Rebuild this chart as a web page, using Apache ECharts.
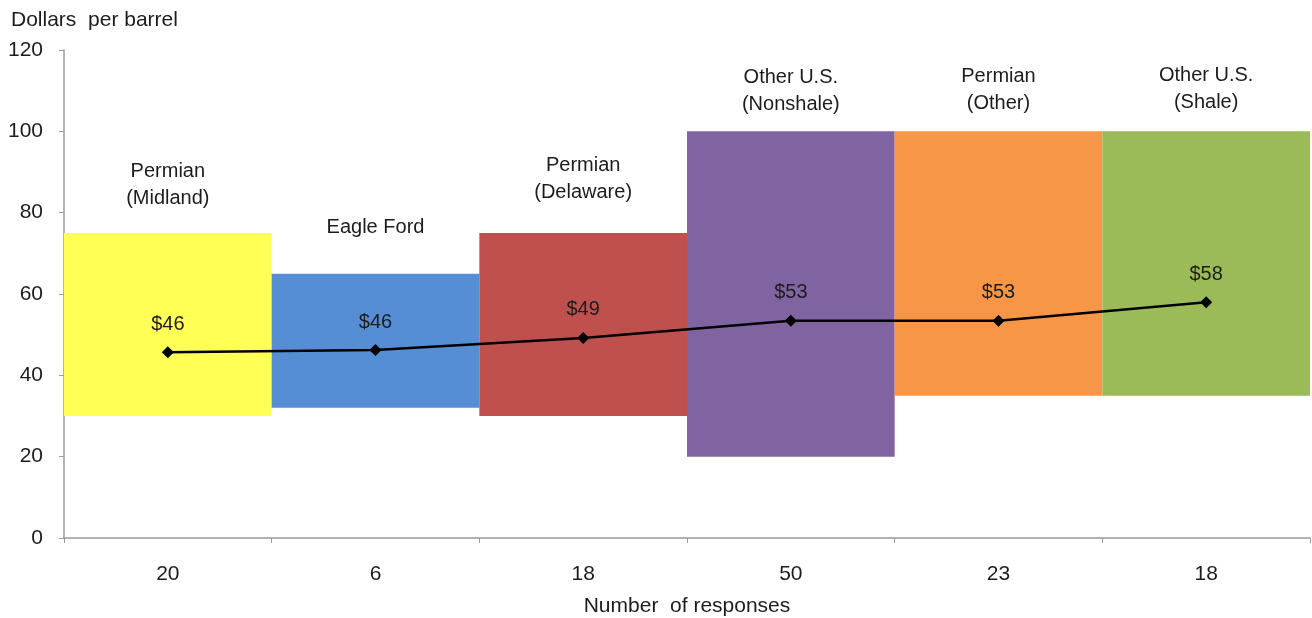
<!DOCTYPE html>
<html>
<head>
<meta charset="utf-8">
<script src="https://cdn.jsdelivr.net/npm/echarts@6/dist/echarts.min.js"></script>
<style>
  html, body { margin: 0; padding: 0; background: #fff; }
  #chart { width: 1312px; height: 618px; }
</style>
</head>
<body>
<div id="chart"></div>
<script>
// Regions and number of survey responses per region
const regions = ['Permian\n(Midland)', 'Eagle Ford', 'Permian\n(Delaware)', 'Other U.S.\n(Nonshale)', 'Permian\n(Other)', 'Other U.S.\n(Shale)'];
const responses = ['20', '6', '18', '50', '23', '18'];
// Range of breakeven prices (dollars per barrel): low and high ends
const rangeLow = [30, 32, 30, 20, 35, 35];
const rangeHigh = [75, 65, 75, 100, 100, 100];
// Average breakeven price per region
const averagePrice = [45.7, 46.2, 49.2, 53.4, 53.4, 58.0];
const yTicks = [0, 20, 40, 60, 80, 100, 120];

// Styling
const regionColors = ['#FFFF55', '#558ED5', '#C0504D', '#8064A2', '#F79646', '#9BBB59'];
const regionLabelGap = [21, 33, 27, 13, 14, 15];

const FONT = 'Liberation Sans, Arial, sans-serif';
const TEXT = '#1c1c1c';
const AXIS = '#9a9a9a';

const chart = echarts.init(document.getElementById('chart'), null, { renderer: 'canvas' });

chart.setOption({
  animation: false,
  title: {
    text: 'Dollars  per barrel',
    left: 6,
    top: 5,
    textStyle: { fontFamily: FONT, fontSize: 21, fontWeight: 'normal', color: TEXT }
  },
  grid: { left: 64, right: 2, top: 50, bottom: 80, containLabel: false, outerBoundsMode: 'none' },
  xAxis: {
    type: 'category',
    data: responses,
    boundaryGap: true,
    name: 'Number  of responses',
    nameLocation: 'middle',
    nameGap: 58,
    nameTextStyle: { fontFamily: FONT, fontSize: 21, color: TEXT },
    axisLine: { lineStyle: { color: AXIS, width: 1.5 } },
    axisTick: { show: true, alignWithLabel: false, length: 5, lineStyle: { color: AXIS } },
    axisLabel: { fontFamily: FONT, fontSize: 21, color: TEXT, margin: 26 },
    splitLine: { show: false }
  },
  yAxis: {
    type: 'value',
    min: yTicks[0],
    max: yTicks[yTicks.length - 1],
    interval: 20,
    axisLine: { show: true, lineStyle: { color: AXIS, width: 1.5 } },
    axisTick: { show: true, length: 5, lineStyle: { color: AXIS } },
    axisLabel: { fontFamily: FONT, fontSize: 21, color: TEXT, margin: 21 },
    splitLine: { show: false }
  },
  series: [
    {
      name: 'base',
      type: 'bar',
      stack: 'range',
      barWidth: '100%',
      barCategoryGap: 0,
      silent: true,
      itemStyle: { color: 'rgba(0,0,0,0)' },
      data: rangeLow
    },
    {
      name: 'range',
      type: 'bar',
      stack: 'range',
      barWidth: '100%',
      barCategoryGap: 0,
      data: rangeHigh.map((h, i) => ({
        value: h - rangeLow[i],
        itemStyle: { color: regionColors[i] },
        label: { distance: regionLabelGap[i] }
      })),
      label: {
        show: true,
        position: 'top',
        fontFamily: FONT,
        fontSize: 20,
        lineHeight: 27,
        color: TEXT,
        formatter: p => regions[p.dataIndex]
      }
    },
    {
      name: 'average',
      type: 'line',
      data: averagePrice,
      z: 5,
      symbol: 'diamond',
      symbolSize: 12,
      lineStyle: { color: '#000', width: 2.5 },
      itemStyle: { color: '#000' },
      label: {
        show: true,
        position: 'top',
        distance: 12,
        fontFamily: FONT,
        fontSize: 20,
        color: TEXT,
        formatter: p => '$' + Math.round(p.value)
      }
    }
  ]
});
</script>
</body>
</html>
